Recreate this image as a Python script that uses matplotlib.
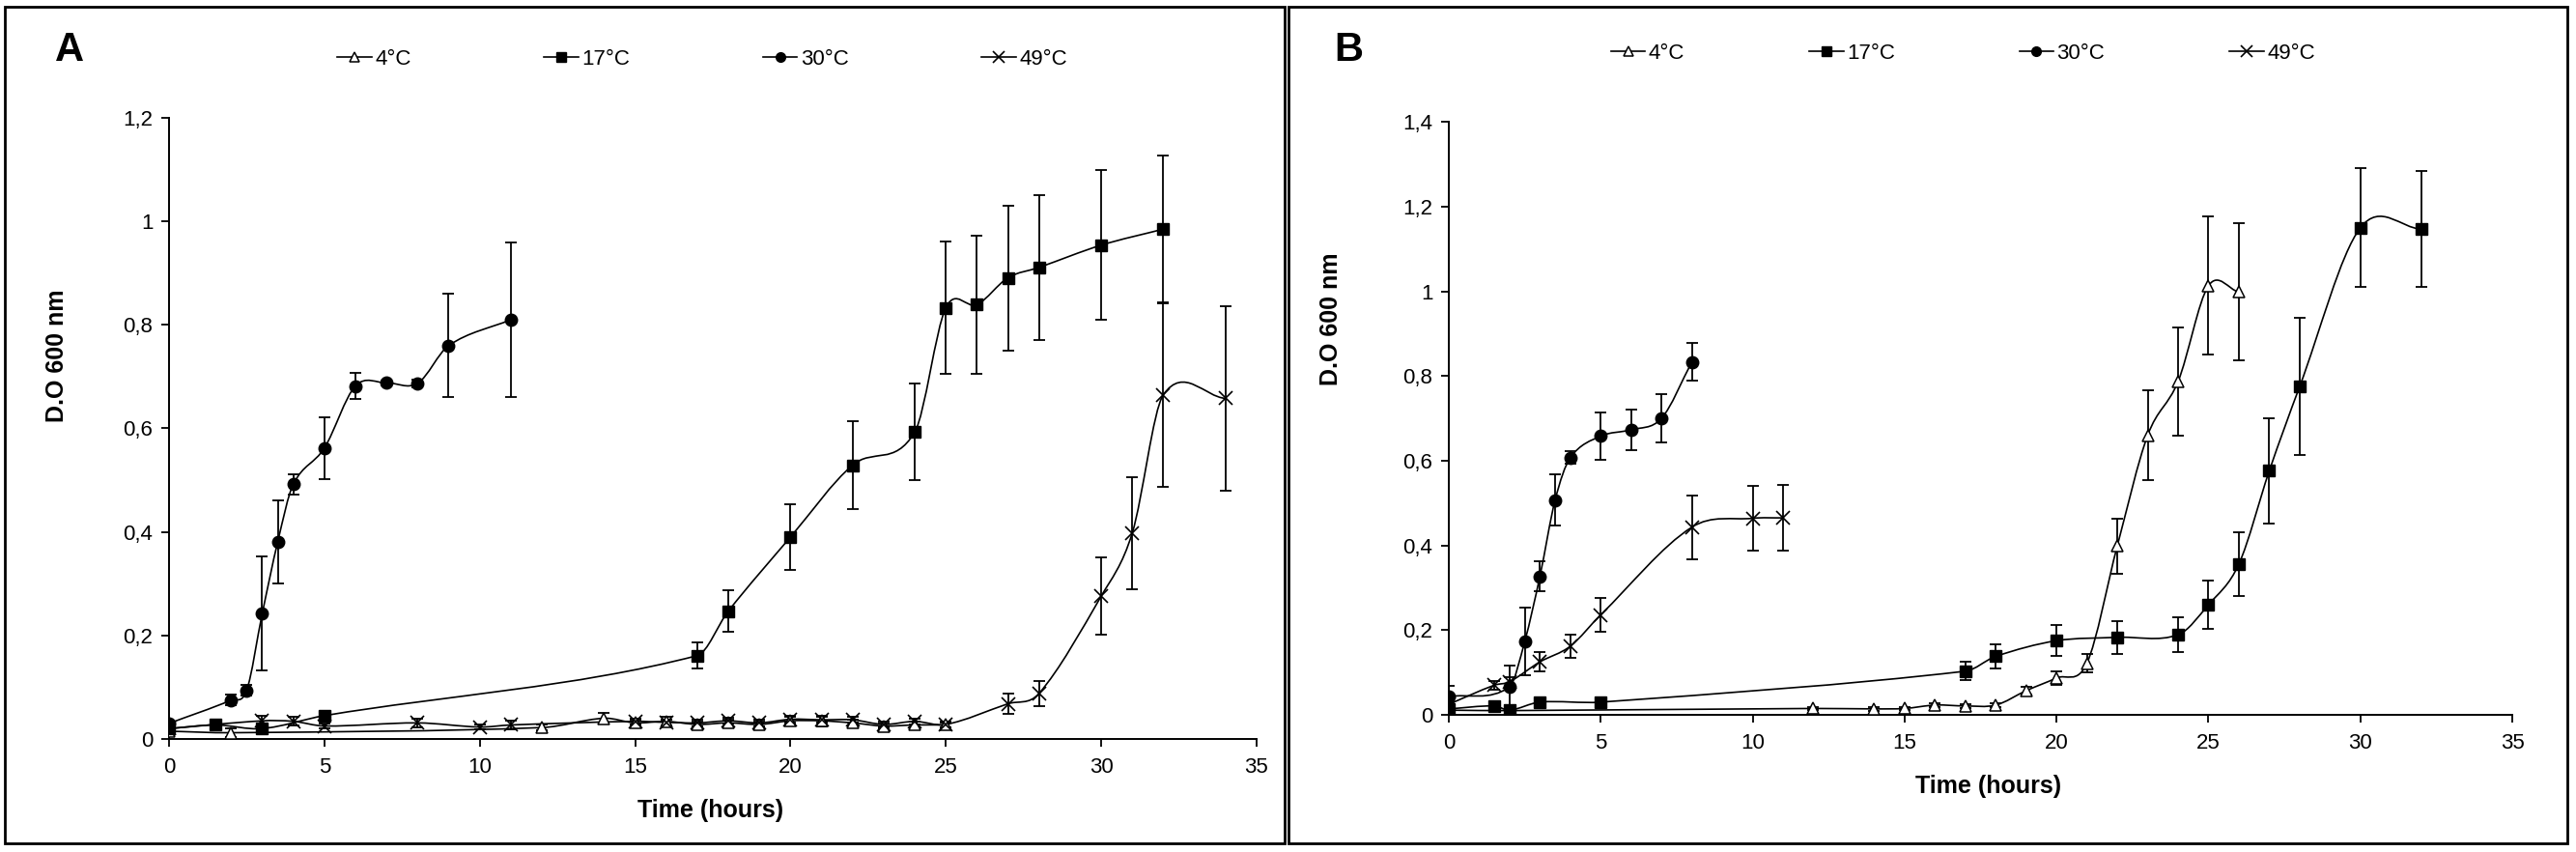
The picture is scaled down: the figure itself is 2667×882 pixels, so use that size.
import matplotlib
matplotlib.use("Agg")
import matplotlib.pyplot as plt
import numpy as np
from matplotlib.path import Path
from matplotlib.patches import PathPatch, Rectangle
from matplotlib.lines import Line2D

plt.rcParams['font.family'] = ['Liberation Sans Narrow', 'Liberation Sans', 'DejaVu Sans']

# Panel A data (time in hours, OD 600 nm, error)
a_t4 = [0, 2, 12, 14, 15, 16, 17, 18, 19, 20, 21, 22, 23, 24, 25]
a_y4 = [0.015, 0.012, 0.022, 0.040, 0.031, 0.034, 0.028, 0.031, 0.028, 0.035, 0.035, 0.031, 0.025, 0.027, 0.027]
a_e4 = [0.005, 0.008, 0.005, 0.010, 0.006, 0.008, 0.006, 0.006, 0.006, 0.008, 0.010, 0.006, 0.005, 0.006, 0.005]

a_t17 = [0, 1.5, 3, 5, 17, 18, 20, 22, 24, 25, 26, 27, 28, 30, 32]
a_y17 = [0.02, 0.027, 0.02, 0.045, 0.161, 0.247, 0.39, 0.529, 0.593, 0.833, 0.839, 0.891, 0.911, 0.954, 0.985]
a_e17 = [0.005, 0.005, 0.005, 0.006, 0.025, 0.04, 0.063, 0.085, 0.093, 0.128, 0.133, 0.14, 0.14, 0.145, 0.143]

a_t30 = [0, 2, 2.5, 3, 3.5, 4, 5, 6, 7, 8, 9, 11]
a_y30 = [0.03, 0.075, 0.094, 0.242, 0.381, 0.492, 0.562, 0.682, 0.688, 0.687, 0.76, 0.81]
a_e30 = [0.005, 0.01, 0.01, 0.11, 0.08, 0.02, 0.06, 0.025, 0.005, 0.008, 0.10, 0.15]

a_t49 = [0, 3, 4, 5, 8, 10, 11, 15, 16, 17, 18, 19, 20, 21, 22, 23, 24, 25, 27, 28, 30, 31, 32, 34]
a_y49 = [0.02, 0.035, 0.034, 0.025, 0.031, 0.023, 0.027, 0.034, 0.032, 0.031, 0.035, 0.031, 0.038, 0.037,
         0.037, 0.028, 0.034, 0.028, 0.068, 0.088, 0.276, 0.398, 0.665, 0.658]
a_e49 = [0.005, 0.01, 0.008, 0.005, 0.008, 0.005, 0.008, 0.006, 0.006, 0.006, 0.006, 0.006, 0.006, 0.006,
         0.006, 0.005, 0.006, 0.006, 0.02, 0.024, 0.075, 0.108, 0.178, 0.178]

# Panel B data
b_t4 = [0, 2, 12, 14, 15, 16, 17, 18, 19, 20, 21, 22, 23, 24, 25, 26]
b_y4 = [0.011, 0.01, 0.015, 0.014, 0.015, 0.023, 0.021, 0.023, 0.057, 0.087, 0.122, 0.399, 0.66, 0.787, 1.013, 0.998]
b_e4 = [0.005, 0.005, 0.004, 0.004, 0.004, 0.005, 0.005, 0.005, 0.008, 0.016, 0.022, 0.065, 0.106, 0.127, 0.163, 0.162]

b_t17 = [0, 1.5, 2, 3, 5, 17, 18, 20, 22, 24, 25, 26, 27, 28, 30, 32]
b_y17 = [0.014, 0.021, 0.011, 0.03, 0.03, 0.103, 0.138, 0.175, 0.183, 0.189, 0.26, 0.356, 0.576, 0.775, 1.15, 1.147]
b_e17 = [0.005, 0.005, 0.005, 0.005, 0.005, 0.022, 0.028, 0.037, 0.039, 0.041, 0.056, 0.076, 0.124, 0.162, 0.14, 0.136]

b_t30 = [0, 2, 2.5, 3, 3.5, 4, 5, 6, 7, 8]
b_y30 = [0.043, 0.066, 0.173, 0.327, 0.507, 0.607, 0.658, 0.673, 0.70, 0.833]
b_e30 = [0.025, 0.05, 0.08, 0.035, 0.06, 0.015, 0.055, 0.048, 0.058, 0.045]

b_t49 = [0, 1.5, 2, 3, 4, 5, 8, 10, 11]
b_y49 = [0.025, 0.07, 0.078, 0.125, 0.162, 0.236, 0.443, 0.464, 0.465]
b_e49 = [0.005, 0.01, 0.01, 0.023, 0.027, 0.04, 0.075, 0.077, 0.077]

labels = ['4°C', '17°C', '30°C', '49°C']
styles = [
    dict(marker='^', mfc='white', mec='black', ms=8, mew=1.1),
    dict(marker='s', mfc='black', mec='black', ms=9, mew=1),
    dict(marker='o', mfc='black', mec='black', ms=9, mew=1),
    dict(marker='x', mfc='none', mec='black', ms=10, mew=1.2),
]


def smooth_path(x, y):
    """Smoothed line like Excel: cubic Hermite segments through the points."""
    x = np.asarray(x, float)
    y = np.asarray(y, float)
    n = len(x)
    slope = np.empty(n)
    slope[0] = (y[1] - y[0]) / (x[1] - x[0])
    slope[-1] = (y[-1] - y[-2]) / (x[-1] - x[-2])
    slope[1:-1] = (y[2:] - y[:-2]) / (x[2:] - x[:-2])
    verts = [(x[0], y[0])]
    codes = [Path.MOVETO]
    for i in range(n - 1):
        h = (x[i + 1] - x[i]) / 3
        verts += [(x[i] + h, y[i] + slope[i] * h),
                  (x[i + 1] - h, y[i + 1] - slope[i + 1] * h),
                  (x[i + 1], y[i + 1])]
        codes += [Path.CURVE4] * 3
    return Path(verts, codes)


def draw_panel(ax, series, ymax, ytick_labels):
    for (t, y, e), st in zip(series, styles):
        ax.errorbar(t, y, yerr=e, fmt='none', ecolor='black', elinewidth=1.3,
                    capsize=4, capthick=1.3, zorder=2)
        ax.add_patch(PathPatch(smooth_path(t, y), facecolor='none', edgecolor='black',
                               lw=1.2, zorder=3))
        ax.plot(t, y, linestyle='none', zorder=4, **st)
    ax.set_xlim(0, 35)
    ax.set_ylim(0, ymax)
    ax.set_xticks(range(0, 36, 5))
    ax.set_yticks(np.arange(0, ymax + 0.01, 0.2))
    ax.set_yticklabels(ytick_labels)
    ax.spines['top'].set_visible(False)
    ax.spines['right'].set_visible(False)
    ax.spines['left'].set_linewidth(1.4)
    ax.spines['bottom'].set_linewidth(1.4)
    ax.tick_params(axis='both', direction='out', length=6, width=1.3, labelsize=16)
    ax.tick_params(axis='x', pad=8)
    ax.tick_params(axis='y', pad=6)


def add_legend(fig, cx, cy, spacing):
    handles = [Line2D([], [], color='black', lw=1.2,
                      **dict(st, ms=7 if st['marker'] != 'x' else 9)) for st in styles]
    fig.legend(handles, labels, loc='center', bbox_to_anchor=(cx, cy), ncol=4, frameon=False,
               fontsize=16, handlelength=1.6, handletextpad=0.15, columnspacing=spacing)


fig = plt.figure(figsize=(26.67, 8.82), dpi=100)

# panel frames
fig.add_artist(Rectangle((0.0019, 0.0102), 0.4968, 0.9818, transform=fig.transFigure,
                         fill=False, lw=2, edgecolor='black'))
fig.add_artist(Rectangle((0.5002, 0.0102), 0.4964, 0.9818, transform=fig.transFigure,
                         fill=False, lw=2, edgecolor='black'))

axA = fig.add_axes([0.0656, 0.1327, 0.4222, 0.729])
draw_panel(axA, [(a_t4, a_y4, a_e4), (a_t17, a_y17, a_e17), (a_t30, a_y30, a_e30), (a_t49, a_y49, a_e49)],
           1.2, ['0', '0,2', '0,4', '0,6', '0,8', '1', '1,2'])
axA.text(-0.103, 0.617, 'D.O 600 nm', transform=axA.transAxes, rotation=90, ha='center', va='center',
         fontsize=18, fontweight='bold')
axA.text(0.498, -0.115, 'Time (hours)', transform=axA.transAxes, ha='center', va='center',
         fontsize=18, fontweight='bold')
fig.text(72 / 2667, 1 - 52 / 882, 'A', fontsize=30, fontweight='bold', ha='center', va='center',
         family=['Liberation Sans', 'DejaVu Sans'])
add_legend(fig, 0.2726, 0.93, 6.2)

axB = fig.add_axes([0.5624, 0.161, 0.4129, 0.696])
draw_panel(axB, [(b_t4, b_y4, b_e4), (b_t17, b_y17, b_e17), (b_t30, b_y30, b_e30), (b_t49, b_y49, b_e49)],
           1.4, ['0', '0,2', '0,4', '0,6', '0,8', '1', '1,2', '1,4'])
axB.text(-0.111, 0.668, 'D.O 600 nm', transform=axB.transAxes, rotation=90, ha='center', va='center',
         fontsize=18, fontweight='bold')
axB.text(0.507, -0.12, 'Time (hours)', transform=axB.transAxes, ha='center', va='center',
         fontsize=18, fontweight='bold')
fig.text(1396 / 2667, 1 - 52 / 882, 'B', fontsize=30, fontweight='bold', ha='center', va='center',
         family=['Liberation Sans', 'DejaVu Sans'])
add_legend(fig, 0.762, 0.9376, 5.8)

fig.savefig('out.png', dpi=100)
